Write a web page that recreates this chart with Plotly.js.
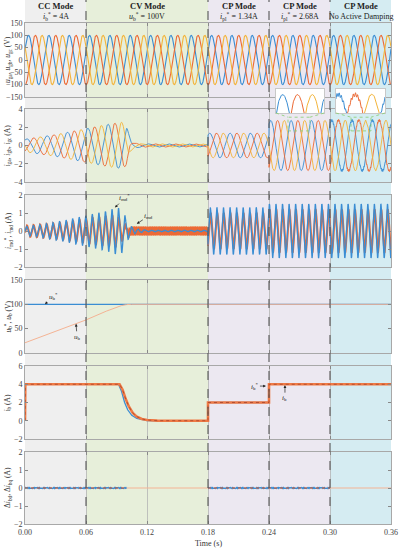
<!DOCTYPE html>
<html><head><meta charset="utf-8">
<script src="https://cdn.plot.ly/plotly-3.0.1.min.js"></script>
<style>html,body{margin:0;padding:0;background:#fff;} #chart{width:399px;height:550px;}</style>
</head><body><div id="chart"></div>
<script>
// ---------------- data ----------------
const tEnd = 0.36, dt = 0.0001;
const xTickVals = [0, 0.06, 0.12, 0.18, 0.24, 0.30, 0.36];
const modeStart = [0, 0.06, 0.18, 0.24, 0.30];
const modeEnd = [0.06, 0.18, 0.24, 0.30, 0.36];
const modeTitles = ['CC Mode', 'CV Mode', 'CP Mode', 'CP Mode', 'CP Mode'];
const modeSubtitles = ['<i>i</i><sub>b</sub><sup>*</sup> = 4A', '<i>u</i><sub>b</sub><sup>*</sup> = 100V',
  '<i>i</i><sub>pl</sub><sup>*</sup> = 1.34A', '<i>i</i><sub>pl</sub><sup>*</sup> = 2.68A', 'No Active Damping'];
const dividerTimes = [0.06, 0.18, 0.24, 0.30];

// grid voltages
const gridFreq = 50;          // Hz
const gridVoltAmp = 100;      // V

// grid current amplitude envelope (A)
const igEnvT = [0, 0.03, 0.06, 0.08, 0.095, 0.1, 0.103, 0.106, 0.115, 0.18, 0.18, 0.24, 0.24, 0.36];
const igEnvV = [0.7, 1.2, 1.85, 2.3, 2.55, 2.2, 0.8, 0.3, 0.18, 0.15, 1.35, 1.35, 2.75, 2.75];
const igRippleT = [0, 0.30, 0.30, 0.36];
const igRippleV = [0, 0, 0.12, 0.12];

// i_md oscillation envelope (A)
const imdFreq = 155;
const imdEnvT = [0, 0.02, 0.04, 0.06, 0.08, 0.09, 0.096, 0.1, 0.104, 0.11, 0.12, 0.18, 0.18, 0.24, 0.24, 0.36];
const imdEnvV = [0.25, 0.4, 0.6, 0.85, 1.1, 1.3, 1.2, 0.6, 0.25, 0.12, 0.05, 0.05, 1.3, 1.3, 1.5, 1.5];
const imdRefEnvT = [0, 0.02, 0.04, 0.06, 0.09, 0.1, 0.104, 0.18, 0.18, 0.24, 0.24, 0.36];
const imdRefEnvV = [0.3, 0.38, 0.5, 0.7, 0.9, 0.3, 0, 0, 1.0, 1.0, 1.2, 1.2];
const imdBandT = [0, 0.098, 0.102, 0.18, 0.18, 0.36];
const imdBandV = [0, 0, 0.25, 0.25, 0, 0];

// battery voltage
const ubRefT = [0, 0.36];
const ubRefV = [100, 100];
const ubT = [0, 0.06, 0.08, 0.09, 0.095, 0.1, 0.105, 0.36];
const ubV = [21, 68, 86, 94, 97.5, 99.5, 100, 100];

// battery current
const ibRefT = [0, 0.092, 0.095, 0.098, 0.101, 0.105, 0.11, 0.115, 0.12, 0.13, 0.18, 0.18, 0.24, 0.24, 0.36];
const ibRefV = [4, 4, 3.2, 2.0, 1.2, 0.6, 0.25, 0.1, 0.03, 0, 0, 2, 2, 4, 4];
const ibT = [0, 0.0003, 0.093, 0.096, 0.099, 0.102, 0.106, 0.11, 0.115, 0.12, 0.13, 0.18, 0.18, 0.24, 0.24, 0.36];
const ibV = [0, 4, 4, 3.4, 2.4, 1.6, 0.85, 0.45, 0.2, 0.08, 0.01, 0, 2, 2, 4, 4];

// current error ripple
const dibT = [0, 0.1, 0.1, 0.18, 0.18, 0.30, 0.30, 0.36];
const dibV = [0.025, 0.025, 0, 0, 0.025, 0.025, 0, 0];

// ---------------- helpers ----------------
function env(ts, vs, t) {
  if (t <= ts[0]) return vs[0];
  for (let i = 1; i < ts.length; i++) {
    if (t < ts[i]) return vs[i - 1] + (vs[i] - vs[i - 1]) * (t - ts[i - 1]) / (ts[i] - ts[i - 1]);
  }
  return vs[vs.length - 1];
}
const t = [];
for (let k = 0; k <= Math.round(tEnd / dt); k++) t.push(+(k * dt).toFixed(5));
const w = 2 * Math.PI * gridFreq;
const ph = [0, -2 * Math.PI / 3, 2 * Math.PI / 3];

const uga = [], ugb = [], ugc = [];
const iga = [], igb = [], igc = [];
const imd = [], imdRef = [], dib = [], dibOv = [];
t.forEach(tt => {
  const vp = 0.15 * Math.PI;
  uga.push(gridVoltAmp * Math.sin(w * tt + vp + ph[0]));
  ugb.push(gridVoltAmp * Math.sin(w * tt + vp + ph[1]));
  ugc.push(gridVoltAmp * Math.sin(w * tt + vp + ph[2]));
  const A = env(igEnvT, igEnvV, tt);
  const R = env(igRippleT, igRippleV, tt);
  const ip = 0.33 * Math.PI;
  const rip = Math.sin(2 * Math.PI * 1150 * tt);
  iga.push(A * Math.sin(w * tt + ip + ph[0]) + R * rip);
  igb.push(A * Math.sin(w * tt + ip + ph[1]) - R * rip);
  igc.push(A * Math.sin(w * tt + ip + ph[2]) + 0.3 * R * rip);
  const m = env(imdEnvT, imdEnvV, tt);
  const mr = env(imdRefEnvT, imdRefEnvV, tt);
  const b = env(imdBandT, imdBandV, tt);
  imd.push(m * Math.sin(2 * Math.PI * imdFreq * tt));
  imdRef.push(mr * Math.sin(2 * Math.PI * imdFreq * tt - 0.3) + b * Math.sin(2 * Math.PI * 450 * tt));
  const d = env(dibT, dibV, tt);
  dib.push(d > 0 ? d * Math.sin(2 * Math.PI * 900 * tt) : null);
  dibOv.push(d > 0 ? 0 : null);
});

// ---------------- layout geometry ----------------
const W = 399, H = 550, mL = 25, mR = 8, mT = 23, mB = 26;
const PH = H - mT - mB, PW = W - mL - mR;
const panelPx = [[23, 97], [109, 182], [195, 267], [280, 353], [366, 439], [452, 524]];
const dom = p => [1 - (p[1] - mT) / PH, 1 - (p[0] - mT) / PH];
const serif = 'Liberation Serif, Times New Roman, serif';
const cBlue = '#3a8dd3', cOrange = '#ec6a35', cYellow = '#f3b43a';

const yRanges = [[-150, 150], [-4, 4], [-2, 2], [0, 150], [-2, 6], [-2, 2]];
const yDticks = [50, 2, 1, 50, 2, 1];
const yTitles = [
  '<i>u</i><sub>ga</sub>, <i>u</i><sub>gb</sub>, <i>u</i><sub>gc</sub> (V)',
  '<i>i</i><sub>ga</sub>, <i>i</i><sub>gb</sub>, <i>i</i><sub>gc</sub> (A)',
  '<i>i</i><sub>md</sub><sup>*</sup>, <i>i</i><sub>md</sub> (A)',
  '<i>u</i><sub>b</sub><sup>*</sup>, <i>u</i><sub>b</sub> (V)',
  '<i>i</i><sub>b</sub> (A)',
  'Δ<i>i</i><sub>bd</sub>, Δ<i>i</i><sub>bq</sub> (A)'];

const layout = {
  width: W, height: H, margin: {l: mL, r: mR, t: mT, b: mB},
  paper_bgcolor: '#ffffff', plot_bgcolor: 'rgba(0,0,0,0)', showlegend: false,
  font: {family: serif, size: 8, color: '#333'},
  shapes: [], annotations: []
};
for (let i = 0; i < 6; i++) {
  const s = i === 0 ? '' : String(i + 1);
  layout['xaxis' + s] = {
    domain: [0, 1], range: [0, tEnd], anchor: 'y' + s, tickvals: xTickVals, tickformat: '.2f',
    showticklabels: i === 5, ticks: 'inside', ticklen: 3, tickcolor: '#888',
    showline: true, mirror: 'ticks', linecolor: '#a8a8a8', linewidth: 1,
    showgrid: true, gridcolor: '#b4b4b4', gridwidth: 0.8, zeroline: false,
    tickfont: {family: serif, size: 8, color: '#444'}
  };
  layout['yaxis' + s] = {
    domain: dom(panelPx[i]), range: yRanges[i], anchor: 'x' + s, dtick: yDticks[i], tick0: 0,
    ticks: 'inside', ticklen: 3, tickcolor: '#888', showline: true, mirror: 'ticks',
    linecolor: '#a8a8a8', linewidth: 1, showgrid: false, zeroline: false,
    tickfont: {family: serif, size: 8, color: '#444'}
  };
  const d = dom(panelPx[i]);
  layout.annotations.push({xref: 'paper', yref: 'paper', x: (8 - mL) / PW, y: (d[0] + d[1]) / 2,
    xanchor: 'center', yanchor: 'middle',
    text: yTitles[i], textangle: -90, showarrow: false, font: {family: serif, size: 7.5, color: '#333'}});
}

// background shading of the modes
const modeFills = ['#efefef', '#e7efda', '#ece8f1', '#ece8f1', '#d5ecf2'];
const yTopPaper = 1 + mT / PH;
for (let k = 0; k < 5; k++) {
  layout.shapes.push({type: 'rect', xref: 'x', yref: 'paper', x0: modeStart[k], x1: modeEnd[k], y0: 0, y1: yTopPaper,
    fillcolor: modeFills[k], line: {width: 0}, layer: 'below'});
  const xm = (modeStart[k] + modeEnd[k]) / 2;
  layout.annotations.push({xref: 'x', yref: 'paper', x: xm, y: 1 + (mT - 6) / PH, xanchor: 'center', yanchor: 'middle',
    text: '<b>' + modeTitles[k] + '</b>', showarrow: false, font: {family: serif, size: 8.5, color: '#222'}});
  layout.annotations.push({xref: 'x', yref: 'paper', x: xm, y: 1 + (mT - 16.5) / PH, xanchor: 'center', yanchor: 'middle',
    text: modeSubtitles[k], showarrow: false, font: {family: serif, size: 8, color: '#222'}});
}
dividerTimes.forEach(x => layout.shapes.push({type: 'line', xref: 'x', yref: 'paper', x0: x, x1: x, y0: 0, y1: yTopPaper,
  line: {color: '#555', width: 1.1, dash: 'dash'}, layer: 'above'}));

// x-axis title
layout.annotations.push({xref: 'paper', yref: 'paper', x: 0.5, y: -(543 - 524) / PH, xanchor: 'center', yanchor: 'middle',
  text: 'Time (s)', showarrow: false, font: {family: serif, size: 8, color: '#333'}});

// insets
const insetSrc = [[0.2587, 0.2803], [0.3207, 0.3403]];
const insetPx = [[276, 324], [336, 385]];
const insetY = [1.6, 3.1];
const xp = px => (px - mL) / PW;
for (let j = 0; j < 2; j++) {
  const s = String(7 + j);
  layout['xaxis' + s] = {domain: [xp(insetPx[j][0]), xp(insetPx[j][1])], range: insetSrc[j], anchor: 'y' + s,
    showticklabels: false, ticks: '', showgrid: false, zeroline: false, showline: true, mirror: true, linecolor: '#c8c8c8'};
  layout['yaxis' + s] = {domain: dom([89, 113]), range: insetY, anchor: 'x' + s,
    showticklabels: false, ticks: '', showgrid: false, zeroline: false, showline: true, mirror: true, linecolor: '#c8c8c8'};
  layout.shapes.push({type: 'rect', xref: 'x' + s, yref: 'y' + s, x0: insetSrc[j][0], x1: insetSrc[j][1], y0: insetY[0], y1: insetY[1],
    fillcolor: '#ffffff', line: {width: 0}, layer: 'below'});
  const gc = {color: '#8fd07c', width: 0.9, dash: 'dot'};
  layout.shapes.push({type: 'rect', xref: 'x2', yref: 'y2', x0: insetSrc[j][0], x1: insetSrc[j][1], y0: insetY[0], y1: insetY[1],
    line: gc, layer: 'above'});
  const xL = (insetPx[j][0] - mL) / PW * tEnd, xR = (insetPx[j][1] - mL) / PW * tEnd;
  const yB = 4 - (113 - 109) / 9.125;
  layout.shapes.push({type: 'line', xref: 'x2', yref: 'y2', x0: xL, y0: yB, x1: insetSrc[j][0], y1: insetY[1], line: gc, layer: 'above'});
  layout.shapes.push({type: 'line', xref: 'x2', yref: 'y2', x0: xR, y0: yB, x1: insetSrc[j][1], y1: insetY[1], line: gc, layer: 'above'});
}

// pointer annotations
const arrowFont = {family: serif, size: 7, color: '#222'};
function pointer(xr, yr, x, y, text, ax, ay) {
  layout.annotations.push({xref: xr, yref: yr, x: x, y: y, text: text, showarrow: true, ax: ax, ay: ay,
    arrowhead: 2, arrowsize: 0.8, arrowwidth: 0.7, arrowcolor: '#222', font: arrowFont});
}
pointer('x3', 'y3', 0.0885, 1.3, '<i>i</i><sub>md</sub><sup>*</sup>', 10, -10);
pointer('x3', 'y3', 0.110, 0.4, '<i>i</i><sub>md</sub>', 12, -8);
pointer('x4', 'y4', 0.0197, 100, '<i>u</i><sub>b</sub><sup>*</sup>', 8, -8);
pointer('x4', 'y4', 0.0502, 60, '<i>u</i><sub>b</sub>', 1, 13);
pointer('x5', 'y5', 0.237, 3.8, '<i>i</i><sub>b</sub><sup>*</sup>', -11, 0);
pointer('x5', 'y5', 0.2557, 3.9, '<i>i</i><sub>b</sub>', 0, 13);

// ---------------- traces ----------------
const L = (x, y, ax, color, width, extra) => Object.assign({x: x, y: y, xaxis: 'x' + ax, yaxis: 'y' + ax, type: 'scatter', mode: 'lines',
  hoverinfo: 'skip', line: {color: color, width: width}}, extra || {});
const traces = [
  L(t, uga, '', cBlue, 1.1), L(t, ugb, '', cOrange, 1.1), L(t, ugc, '', cYellow, 1.1),
  L(t, iga, '2', cBlue, 0.9), L(t, igb, '2', cOrange, 0.9), L(t, igc, '2', cYellow, 0.9),
  L(t, imdRef, '3', cOrange, 2.0), L(t, imd, '3', cBlue, 1.3),
  L(ubRefT, ubRefV, '4', cBlue, 1.3), L(ubT, ubV, '4', '#f4b394', 1.0),
  L(ibRefT, ibRefV, '5', cBlue, 1.3), L(ibT, ibV, '5', '#ef7a45', 2.6), L(ibT, ibV, '5', '#a8432a', 0.8, {line: {color: '#a8432a', width: 0.8, dash: 'dot'}}),
  L(ubRefT, [0, 0], '6', '#f4b394', 1.0), L(t, dib, '6', cBlue, 1.2), L(t, dibOv, '6', '#d9572a', 1.0, {line: {color: '#d9572a', width: 1.0, dash: 'dot'}}),
  L(t, iga, '7', cBlue, 1.0), L(t, igb, '7', cOrange, 1.0), L(t, igc, '7', cYellow, 1.0),
  L(t, iga, '8', cBlue, 1.0), L(t, igb, '8', cOrange, 1.0), L(t, igc, '8', cYellow, 1.0)
];

Plotly.newPlot('chart', traces, layout, {displayModeBar: false, staticPlot: true});
</script></body></html>
